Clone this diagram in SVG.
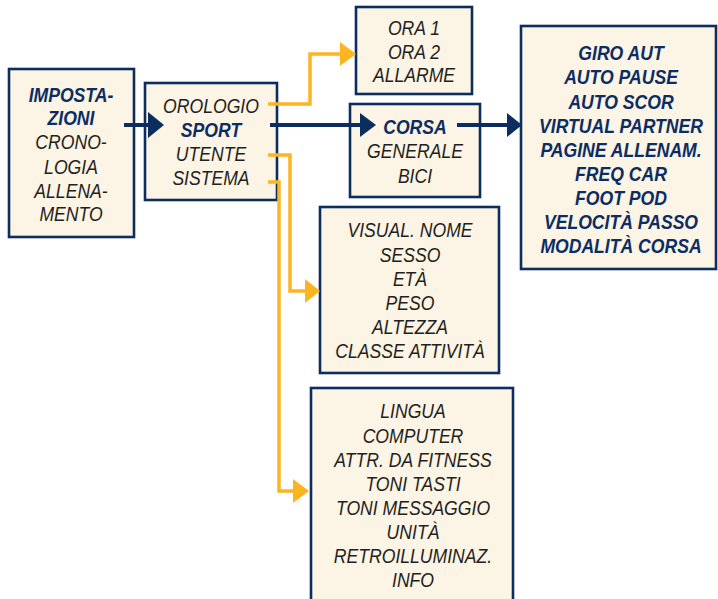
<svg xmlns="http://www.w3.org/2000/svg" width="718" height="599" viewBox="0 0 718 599">
<style>
.box{fill:#fcf4e4;stroke:#0b2d5f;stroke-width:2.6}
text{font-family:"Liberation Sans",Arial,sans-serif;font-size:20px;font-style:italic;text-anchor:middle;fill:#231f20}
.b{font-weight:bold;fill:#0b2d63}
.nav{fill:none;stroke:#0b2d5f;stroke-width:4}
.nh{fill:#0b2d5f}
.yl{fill:none;stroke:#fbb521;stroke-width:3.5;stroke-linejoin:miter}
.yh{fill:#fbb521}
</style>
<g id="impostazioni">
<rect class="box" x="9" y="69" width="125" height="168"/>
<g transform="translate(71,0) scale(0.88,1)">
<text class="b" x="0" y="102">IMPOSTA-</text>
<text class="b" x="0" y="125">ZIONI</text>
<text x="0" y="149">CRONO-</text>
<text x="0" y="174">LOGIA</text>
<text x="0" y="198">ALLENA-</text>
<text x="0" y="221">MENTO</text>
</g>
</g>
<g id="menu">
<rect class="box" x="145" y="83" width="132" height="117"/>
<g transform="translate(211,0) scale(0.88,1)">
<text x="0" y="113">OROLOGIO</text>
<text class="b" x="0" y="137">SPORT</text>
<text x="0" y="161">UTENTE</text>
<text x="0" y="185">SISTEMA</text>
</g>
</g>
<g id="orologio">
<rect class="box" x="356" y="7" width="116" height="87"/>
<g transform="translate(414,0) scale(0.88,1)">
<text x="0" y="35">ORA 1</text>
<text x="0" y="59">ORA 2</text>
<text x="0" y="82">ALLARME</text>
</g>
</g>
<g id="sport">
<rect class="box" x="350" y="104" width="130" height="93"/>
<g transform="translate(415,0) scale(0.88,1)">
<text class="b" x="0" y="134">CORSA</text>
<text x="0" y="158">GENERALE</text>
<text x="0" y="183">BICI</text>
</g>
</g>
<g id="corsa">
<rect class="box" x="521" y="26" width="195" height="243"/>
<g transform="translate(621,0) scale(0.88,1)">
<text class="b" x="0" y="60">GIRO AUT</text>
<text class="b" x="0" y="84">AUTO PAUSE</text>
<text class="b" x="0" y="109">AUTO SCOR</text>
<text class="b" x="0" y="133">VIRTUAL PARTNER</text>
<text class="b" x="0" y="157">PAGINE ALLENAM.</text>
<text class="b" x="0" y="181">FREQ CAR</text>
<text class="b" x="0" y="205">FOOT POD</text>
<text class="b" x="0" y="229">VELOCITÀ PASSO</text>
<text class="b" x="0" y="253">MODALITÀ CORSA</text>
</g>
</g>
<g id="utente">
<rect class="box" x="320" y="207" width="179" height="166"/>
<g transform="translate(410,0) scale(0.88,1)">
<text x="0" y="237">VISUAL. NOME</text>
<text x="0" y="262">SESSO</text>
<text x="0" y="286">ETÀ</text>
<text x="0" y="310">PESO</text>
<text x="0" y="334">ALTEZZA</text>
<text x="0" y="358">CLASSE ATTIVITÀ</text>
</g>
</g>
<g id="sistema">
<rect class="box" x="311" y="388" width="202" height="222"/>
<g transform="translate(413,0) scale(0.88,1)">
<text x="0" y="418">LINGUA</text>
<text x="0" y="443">COMPUTER</text>
<text x="0" y="467">ATTR. DA FITNESS</text>
<text x="0" y="491">TONI TASTI</text>
<text x="0" y="515">TONI MESSAGGIO</text>
<text x="0" y="539">UNITÀ</text>
<text x="0" y="563">RETROILLUMINAZ.</text>
<text x="0" y="587">INFO</text>
</g>
</g>
<g id="connectors">
<line class="nav" x1="124" y1="125" x2="150" y2="125"/>
<polygon class="nh" points="148,112 164,125 148,138"/>
<line class="nav" x1="270" y1="125" x2="362" y2="125"/>
<polygon class="nh" points="360,113 376,125 360,137"/>
<line class="nav" x1="457" y1="125" x2="509" y2="125"/>
<polygon class="nh" points="507,113 522,125 507,137"/>
<polyline class="yl" points="268,104 310,104 310,54 342,54"/>
<polygon class="yh" points="340,42 356,54 340,66"/>
<polyline class="yl" points="268,155 290,155 290,291 307,291"/>
<polygon class="yh" points="305,279 320,291 305,303"/>
<polyline class="yl" points="268,182 279,182 279,491 295,491"/>
<polygon class="yh" points="293,479 309,491 293,503"/>
</g>
</svg>
